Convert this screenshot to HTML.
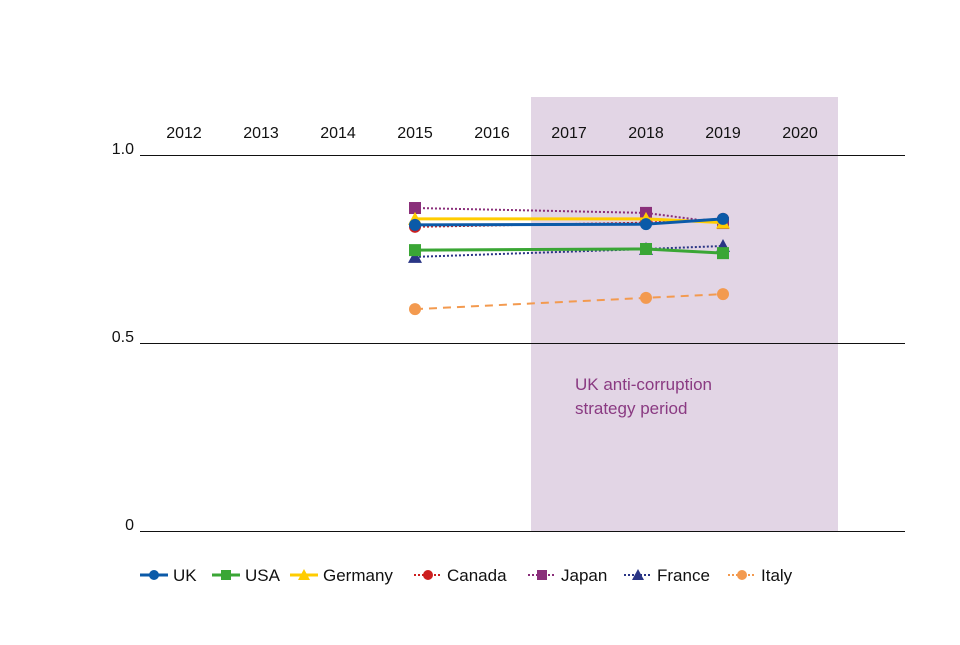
<!DOCTYPE html>
<html><head><meta charset="utf-8"><style>
body{margin:0;background:#fff;font-family:"Liberation Sans",Arial,sans-serif}
svg text{font-family:"Liberation Sans",Arial,sans-serif}
</style></head><body>
<svg id="chart" width="960" height="640" xmlns="http://www.w3.org/2000/svg">
<rect x="531" y="97" width="307" height="434" fill="#e2d5e5"/>
<text x="575" y="390" font-size="17" fill="#8a3a82">UK anti-corruption</text>
<text x="575" y="414" font-size="17" fill="#8a3a82">strategy period</text>
<g id="grid"></g><g id="xt"></g><g id="series"></g><g id="legend"></g>
</svg>
<script>
const years=[2012,2013,2014,2015,2016,2017,2018,2019,2020];
const yTicks=[0,0.5,1.0];
const yTickLabels=["0","0.5","1.0"];
const dataYears=[2015,2018,2019];
const uk=[0.814,0.816,0.83];
const usa=[0.747,0.75,0.739];
const germany=[0.83,0.83,0.82];
const canada=[0.809,0.82,0.83];
const japan=[0.859,0.846,0.819];
const france=[0.729,0.75,0.758];
const italy=[0.59,0.62,0.63];
const NS="http://www.w3.org/2000/svg";
const X=y=>184+(y-2012)*77;
const Y=v=>531-v*376;
function mk(t,a,p){const e=document.createElementNS(NS,t);for(const k in a)e.setAttribute(k,a[k]);p.appendChild(e);return e;}
const grid=document.getElementById('grid');
yTicks.forEach((t,i)=>{
 const l=mk('line',{x1:140,x2:905,y1:Y(t)+0.5,y2:Y(t)+0.5,stroke:'#111','stroke-width':1},grid);
 
 
 const tx=mk('text',{x:134,y:Y(t)-1,'text-anchor':'end','font-size':16,fill:'#111'},grid);tx.textContent=yTickLabels[i];
 
 
});
const xt=document.getElementById('xt');
years.forEach(y=>{const t=mk('text',{x:X(y),y:138,'text-anchor':'middle','font-size':16,fill:'#111'},xt);t.textContent=y;
 
 });
const series=[
 {n:'Italy',d:italy,c:'#f39a4f',dash:'8,6',w:2,m:'circle'},
 {n:'France',d:france,c:'#2a3585',dash:'2,2',w:2,m:'tri'},
 {n:'Japan',d:japan,c:'#8a2f7a',dash:'2,2',w:2,m:'sq'},
 {n:'Canada',d:canada,c:'#cc1f1f',dash:'2,2',w:2,m:'circle'},
 {n:'Germany',d:germany,c:'#ffcc00',dash:'',w:3,m:'tri'},
 {n:'UK',d:uk,c:'#0b5aa8',dash:'',w:3,m:'circle'},
 {n:'USA',d:usa,c:'#3aa635',dash:'',w:3,m:'sq'}];
function marker(m,x,y,c,p,s){
 if(m==='circle')return mk('circle',{cx:x,cy:y,r:s,fill:c},p);
 if(m==='sq')return mk('rect',{x:x-s,y:y-s,width:2*s,height:2*s,fill:c},p);
 return mk('polygon',{points:`${x-s-1},${y+s} ${x+s+1},${y+s} ${x},${y-s-1}`,fill:c},p);
}
const sg=document.getElementById('series');
series.forEach(s=>{
 const g=mk('g',{},sg);
 
 
 mk('polyline',{points:s.d.map((v,i)=>X(dataYears[i])+','+Y(v)).join(' '),fill:'none',stroke:s.c,'stroke-width':s.w,'stroke-dasharray':s.dash},g);
 s.d.forEach((v,i)=>{const e=marker(s.m,X(dataYears[i]),Y(v),s.c,g,6);
  
  });
});
const order=['UK','USA','Germany','Canada','Japan','France','Italy'];
const lx=[140,212,290,414,528,624,728];
const lg=document.getElementById('legend');
order.forEach((n,i)=>{const s=series.find(q=>q.n===n);const g=mk('g',{},lg);
 
 
 const x=lx[i],y=575;
 mk('line',{x1:x,x2:x+28,y1:y,y2:y,stroke:s.c,'stroke-width':s.w,'stroke-dasharray':s.dash?'2,2':''},g);
 marker(s.m,x+14,y,s.c,g,5);
 const t=mk('text',{x:x+33,y:y+6,'font-size':17,fill:'#111'},g);t.textContent=n;});
</script>
</body></html>
